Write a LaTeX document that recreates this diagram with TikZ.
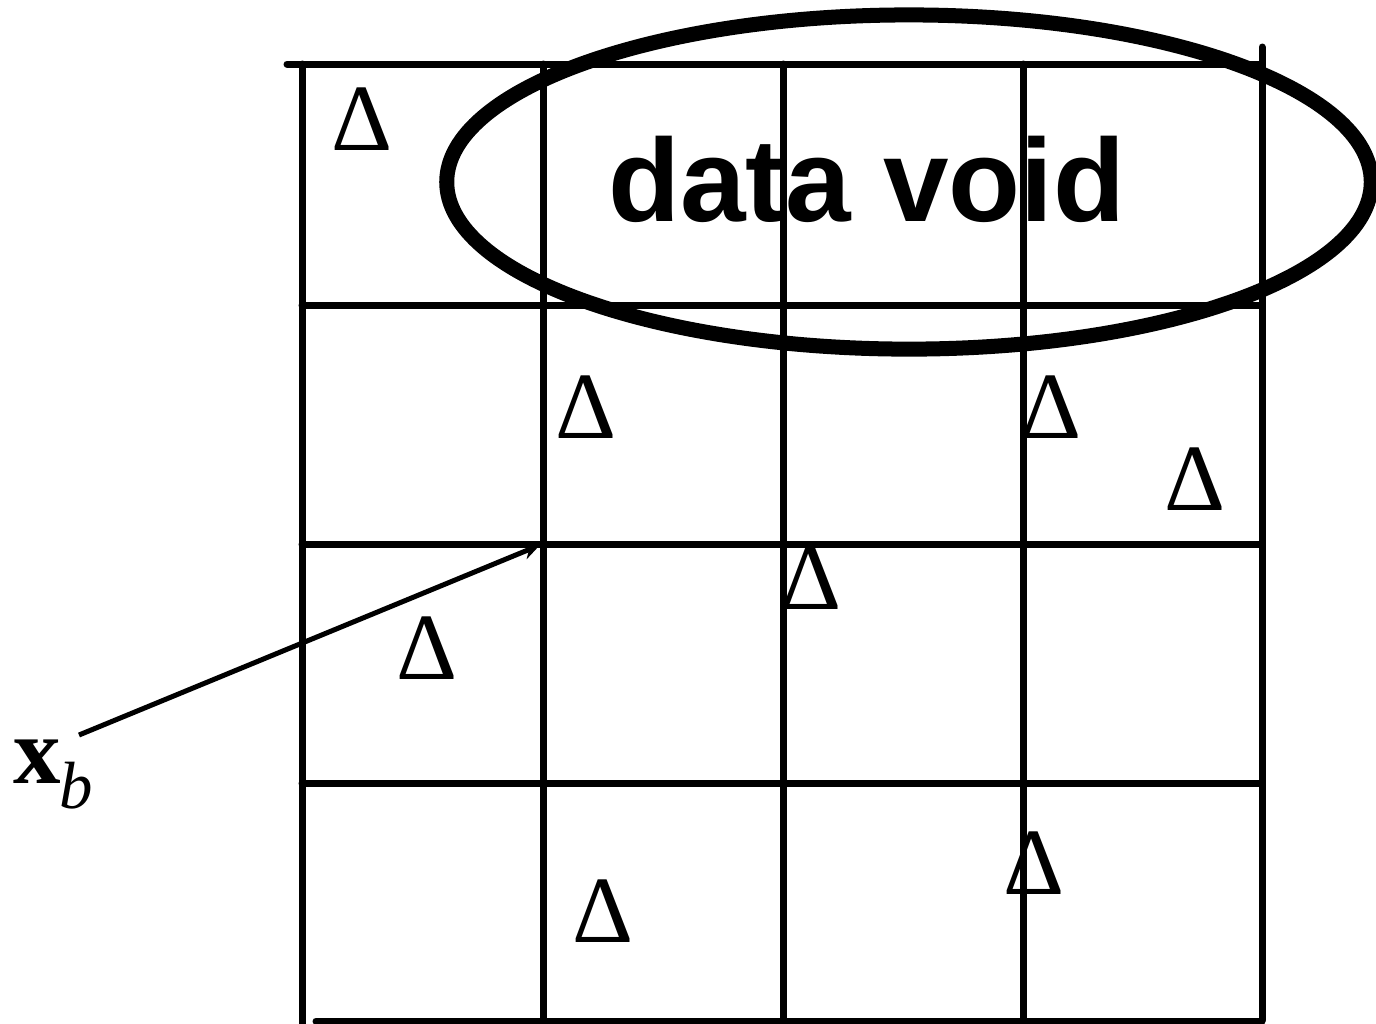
\documentclass[tikz,border=0pt]{standalone}
\usepackage{fontspec}
\setmainfont{Liberation Serif}
\setsansfont{Liberation Sans}
\usepackage{tikz}
\usetikzlibrary{arrows.meta}

\tikzset{
  gridline/.style={line width=0.07cm, line cap=round},
  sample/.style={inner sep=0pt, font=\fontsize{27}{27}\selectfont},
}

\begin{document}
\begin{tikzpicture}[
  x=0.01cm, y=-0.01cm,
  >={Stealth[length=5pt, width=4.5pt]},
]
\useasboundingbox (0,0) rectangle (1376,1023);

% --- Grid ---
\draw[gridline] (287,64) -- (1262,64);
\foreach \x in {302,543,783,1023} {
  \draw[gridline] (\x,64) -- (\x,1030);
}
\draw[gridline] (1262,47) -- (1262,1020);
\foreach \y in {305,544,783} {
  \draw[gridline] (302,\y) -- (1262,\y);
}
\draw[gridline] (316,1021) -- (1262,1021);

% --- Samples ---
\foreach \i/\x/\y in {1/362/119, 2/586/407, 3/811/578, 4/1051/407, 5/1195/479, 6/427/648, 7/1034/863, 8/603/911} {
  \node[sample] (s\i) at (\x,\y) {Δ};
}

% --- Data void ---
\draw[line width=0.15cm] (909,182) ellipse [x radius=4.62cm, y radius=1.67cm];
\node[font=\sffamily\bfseries\fontsize{33.5}{34}\selectfont, inner sep=0pt, anchor=base] (void) at (867,221) {data void};

% --- Background point ---
\node[anchor=base west, inner sep=0pt] (xb) at (13,783)
  {\fontsize{27}{27}\selectfont\bfseries x\kern-0.5pt\raisebox{-0.25cm}{\fontsize{19}{19}\selectfont\mdseries\itshape b}};
\coordinate (xbtail) at (79,735);
\coordinate (gridpt) at (540,545);
\draw[->, line width=0.05cm] (xbtail) -- (gridpt);

\end{tikzpicture}
\end{document}
